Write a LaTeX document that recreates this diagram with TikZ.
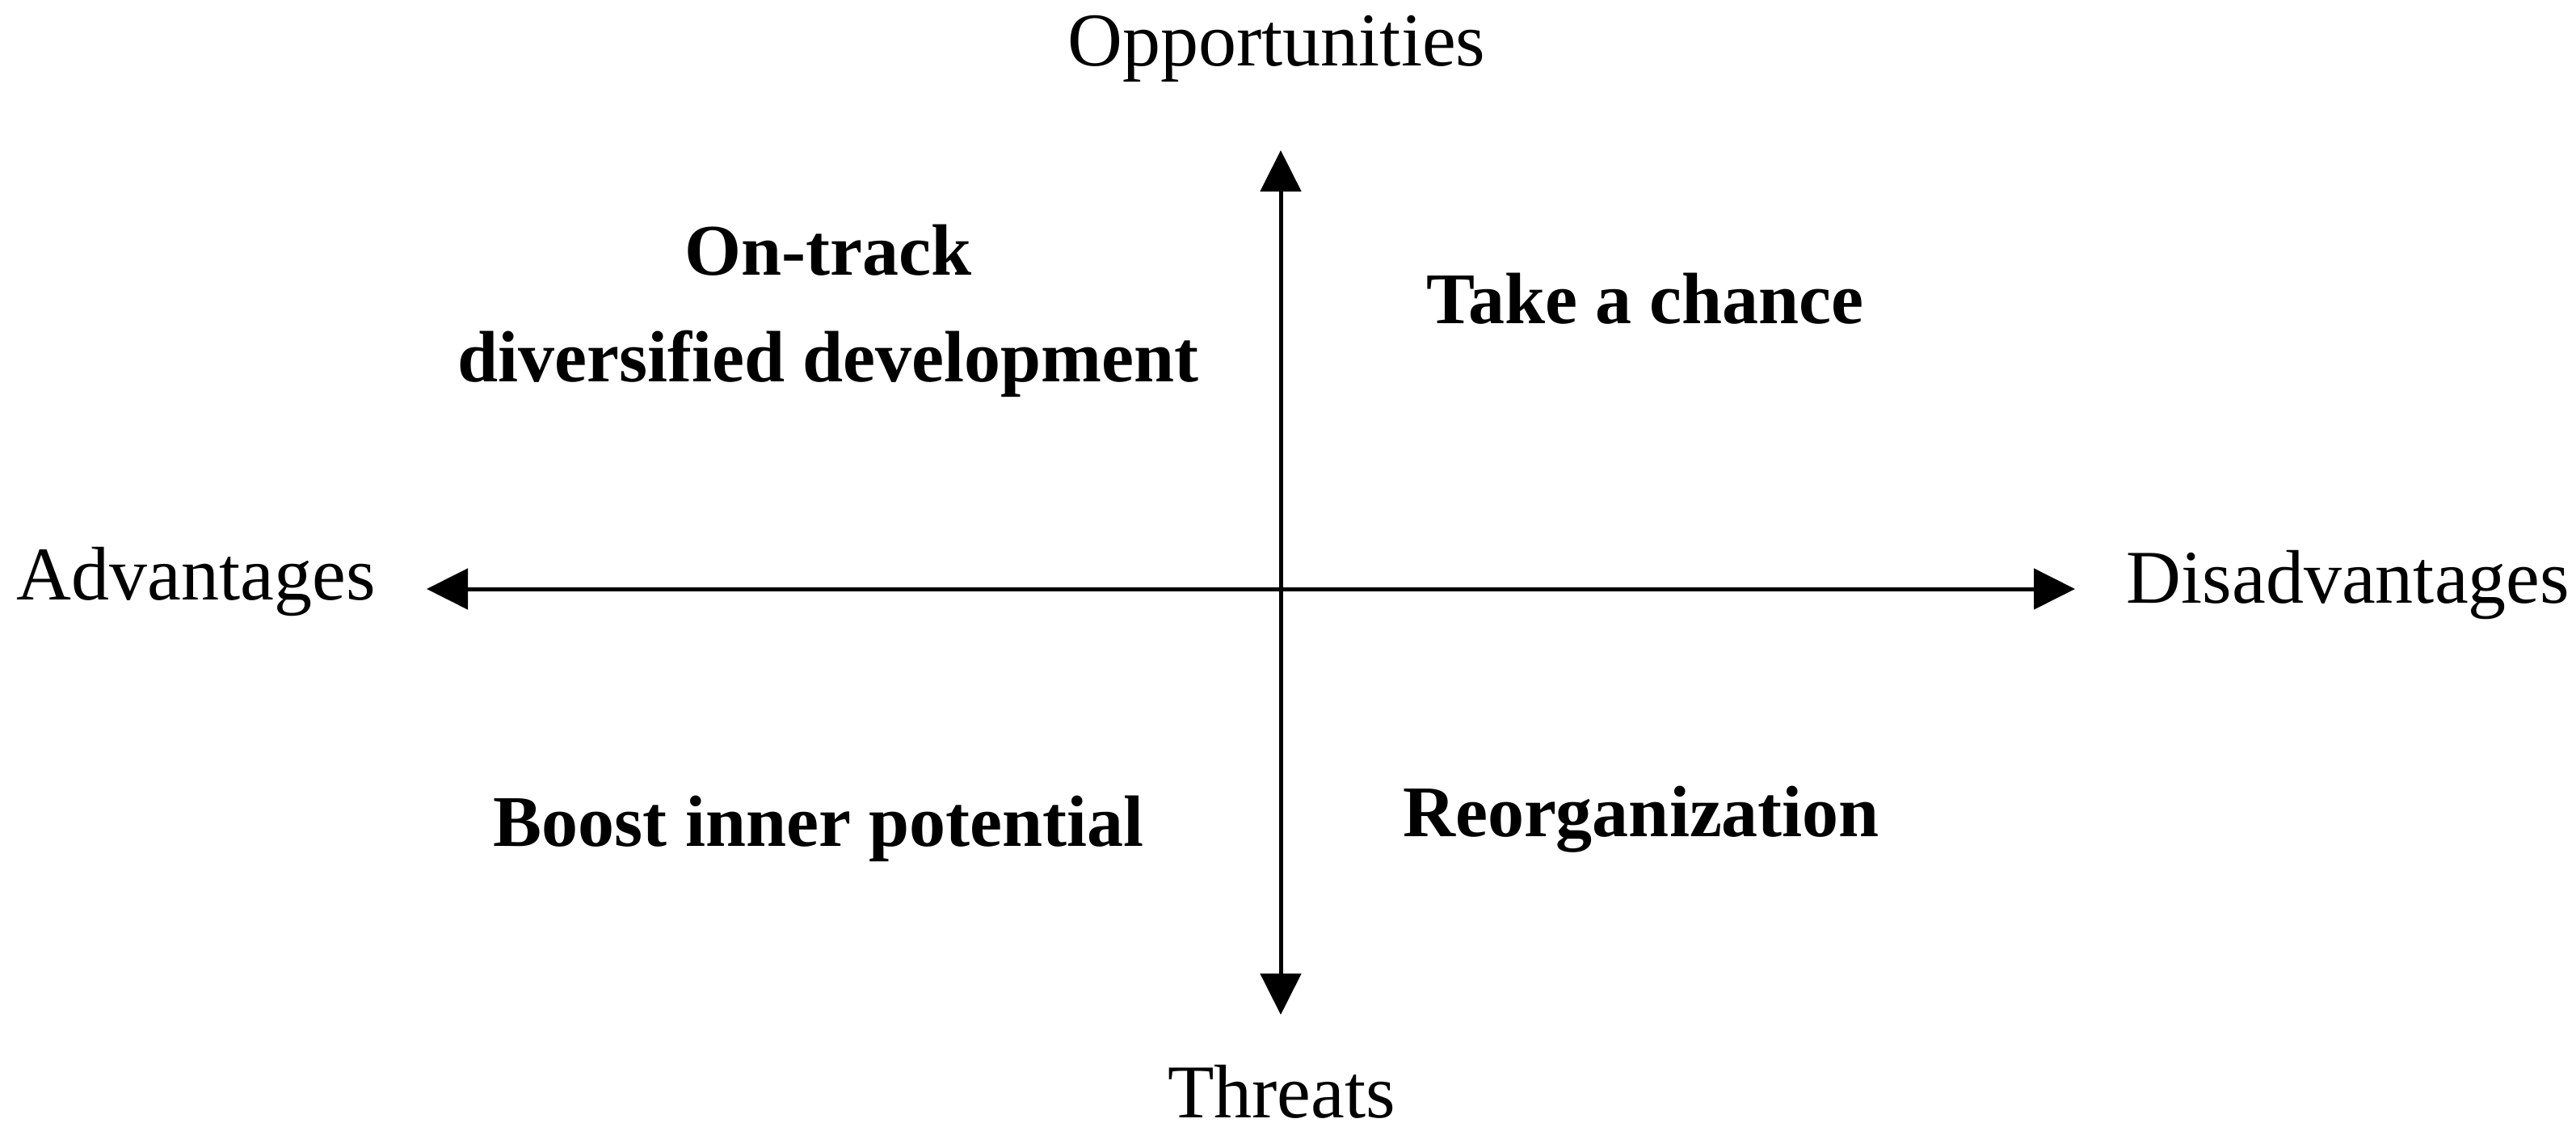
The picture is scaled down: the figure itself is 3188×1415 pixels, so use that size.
\documentclass[tikz,border=0pt]{standalone}
\usepackage{fontspec}
\setmainfont{Liberation Serif}
\usetikzlibrary{arrows.meta}
\begin{document}
\begin{tikzpicture}[x=0.25pt,y=-0.25pt,
  axis/.style={line width=1.25pt,black},
  tipstyle/.style={-{Triangle[length=12.75pt,width=12.5pt]}},
  lbl/.style={anchor=base,inner sep=0pt,font=\fontsize{23.5}{27}\selectfont},
  quad/.style={anchor=base,inner sep=0pt,font=\fontsize{22.5}{27}\selectfont\bfseries,align=center}]
\useasboundingbox (0,0) rectangle (3188,1415);
\coordinate (C) at (1585,729);
\coordinate (top) at (1585,186);
\coordinate (bot) at (1585,1256);
\coordinate (lft) at (528,729);
\coordinate (rgt) at (2568,729);
\draw[axis,{Triangle[length=12.75pt,width=12.5pt]}-{Triangle[length=12.75pt,width=12.5pt]}] (top) -- (bot);
\draw[axis,tipstyle] (C) -- (lft);
\draw[axis,tipstyle] (C) -- (rgt);
\node[lbl] (opp) at (1580,81) {Opportunities};
\node[lbl] (thr) at (1586,1383) {Threats};
\node[lbl,anchor=base west] (adv) at (20,742) {Advantages};
\node[lbl,anchor=base west] (dis) at (2631,746) {Disadvantages};
\node[quad] (q1a) at (1025,340) {On-track};
\node[quad] (q1b) at (1025,472) {diversified development};
\node[quad] (q2) at (2036,400) {Take a chance};
\node[quad] (q3) at (1013,1047) {Boost inner potential};
\node[quad] (q4) at (2031,1035) {Reorganization};
\end{tikzpicture}
\end{document}
